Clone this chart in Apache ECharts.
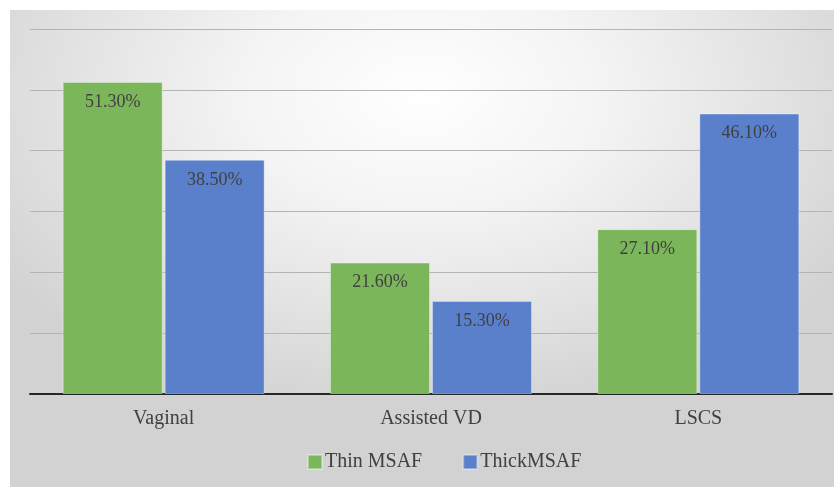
<!DOCTYPE html>
<html>
<head>
<meta charset="utf-8">
<script src="https://cdn.jsdelivr.net/npm/echarts@6/dist/echarts.min.js"></script>
<style>
  html, body { margin: 0; padding: 0; background: #ffffff; }
  #chart {
    position: absolute;
    left: 10px;
    top: 10px;
    width: 824px;
    height: 477px;
    background:
      radial-gradient(ellipse 62% 85% at 50% 22%, #ffffff 0%, #f4f4f4 35%, #e2e2e2 70%, #d2d2d2 100%) top left / 100% 386px no-repeat,
      #d2d2d2;
  }
</style>
</head>
<body>
<div id="chart"></div>
<script>
const categories = ['Vaginal', 'Assisted VD', 'LSCS']
const thinMsaf = [51.3, 21.6, 27.1]
const thickMsaf = [38.5, 15.3, 46.1]
const seriesNames = ['Thin MSAF', 'ThickMSAF']

const textColor = '#404040'
const serif = '"Liberation Serif", "DejaVu Serif", serif'

const chart = echarts.init(document.getElementById('chart'), null, { renderer: 'canvas' })

function barSeries(name, data, color) {
  return {
    name,
    type: 'bar',
    data,
    barWidth: 100,
    barGap: '2%',
    itemStyle: {
      color,
      borderColor: 'rgba(255,255,255,0.35)',
      borderWidth: 1,
    },
    label: {
      show: true,
      position: 'insideTop',
      distance: 11,
      formatter: p => p.value.toFixed(2) + '%',
      color: textColor,
      fontFamily: serif,
      fontSize: 18,
    },
  }
}

chart.setOption({
  backgroundColor: 'transparent',
  animation: false,
  grid: {
    left: 20,
    right: 2,
    top: 19,
    bottom: 93,
    containLabel: false,
  },
  legend: {
    left: 292,
    top: 437,
    itemWidth: 14,
    itemHeight: 14,
    itemGap: 40,
    icon: 'rect',
    textStyle: {
      color: textColor,
      fontFamily: serif,
      fontSize: 20,
      padding: [0, 0, 0, -2],
    },
    data: seriesNames,
  },
  xAxis: {
    type: 'category',
    data: categories,
    axisLine: { show: true, lineStyle: { color: '#262626', width: 2 } },
    axisTick: { show: false },
    axisLabel: {
      color: textColor,
      fontFamily: serif,
      fontSize: 20,
      margin: 15,
    },
  },
  yAxis: {
    type: 'value',
    min: 0,
    max: 60,
    interval: 10,
    axisLine: { show: false },
    axisTick: { show: false },
    axisLabel: { show: false },
    splitLine: { show: true, lineStyle: { color: '#b4b4b4', width: 1 } },
  },
  series: [
    barSeries(seriesNames[0], thinMsaf, '#7cb65a'),
    barSeries(seriesNames[1], thickMsaf, '#5b80cb'),
  ],
})
</script>
</body>
</html>
